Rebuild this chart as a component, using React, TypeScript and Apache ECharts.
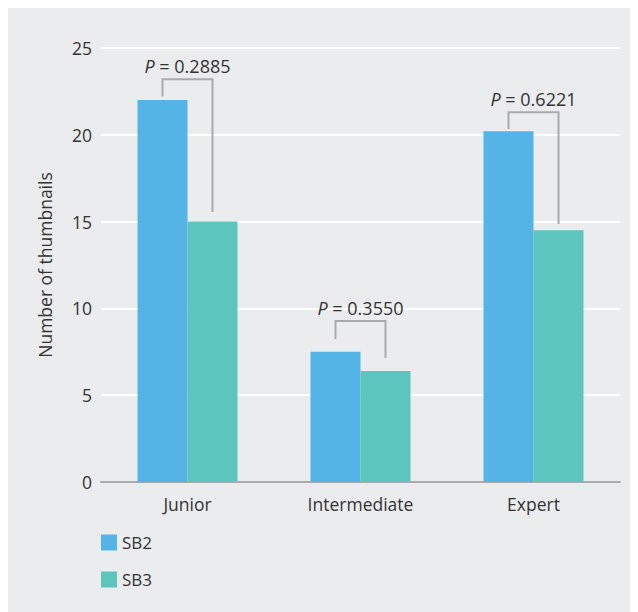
import React, { useEffect, useRef } from "react";
import * as echarts from "echarts";

const categories = ["Junior", "Intermediate", "Expert"];
const sb2Values = [22, 7.5, 20.2];
const sb3Values = [15, 6.4, 14.5];
const pLabels = ["0.2885", "0.3550", "0.6221"];
// bracket: [categoryIndex, bracket top, left leg end, right leg end]
const brackets = [
  [0, 23.2, 22.2, 15.55],
  [1, 9.27, 8.24, 7.14],
  [2, 21.3, 20.33, 14.86],
];
const yTicks = { min: 0, max: 25, interval: 5 };

const FONT = "'Open Sans', 'Noto Sans', sans-serif";
const TEXT = "#333333";
const BAR_FRAC = 0.289;

export default function App() {
  const ref = useRef<HTMLDivElement>(null);
  useEffect(() => {
    if (!ref.current) return;
    const chart = echarts.init(ref.current, undefined, { renderer: "svg" });
    chart.setOption({
      animation: false,
      backgroundColor: "#ebeced",
      textStyle: { fontFamily: FONT, color: TEXT },
      grid: { left: 93, right: 18, top: 40, bottom: 130, containLabel: false },
      legend: {
        data: ["SB2", "SB3"],
        orient: "vertical",
        left: 88,
        top: 521,
        itemWidth: 16,
        itemHeight: 16,
        itemGap: 20,
        icon: "rect",
        textStyle: { fontFamily: FONT, fontSize: 17, color: TEXT },
      },
      xAxis: {
        type: "category",
        data: categories,
        axisLine: { show: true, lineStyle: { color: "#a9aaad", width: 2 } },
        axisTick: { show: false },
        axisLabel: { fontFamily: FONT, fontSize: 17.5, color: TEXT, margin: 13 },
      },
      yAxis: {
        type: "value",
        min: yTicks.min,
        max: yTicks.max,
        interval: yTicks.interval,
        name: "Number of thumbnails",
        nameLocation: "middle",
        nameGap: 47,
        nameTextStyle: { fontFamily: FONT, fontSize: 17.5, color: TEXT },
        axisLine: { show: false },
        axisTick: { show: false },
        axisLabel: { fontFamily: FONT, fontSize: 17.5, color: TEXT, margin: 9 },
        splitLine: { show: true, lineStyle: { color: "#ffffff", width: 2 } },
      },
      series: [
        {
          name: "SB2",
          type: "bar",
          data: sb2Values,
          barWidth: BAR_FRAC * 100 + "%",
          barGap: "0%",
          itemStyle: { color: "#55b4e6" },
        },
        {
          name: "SB3",
          type: "bar",
          data: sb3Values,
          barWidth: BAR_FRAC * 100 + "%",
          barGap: "0%",
          itemStyle: { color: "#5bc5be" },
        },
        {
          name: "brackets",
          type: "custom",
          data: brackets,
          encode: { x: 0, y: 1 },
          z: 5,
          renderItem: (params: any, api: any) => {
            const idx = api.value(0);
            const top = api.coord([idx, api.value(1)]);
            const leftEnd = api.coord([idx, api.value(2)]);
            const rightEnd = api.coord([idx, api.value(3)]);
            const bw = api.size([1, 0])[0];
            const off = (bw * BAR_FRAC) / 2;
            const cx = top[0];
            const lx = cx - off;
            const rx = cx + off;
            return {
              type: "group",
              children: [
                {
                  type: "polyline",
                  shape: {
                    points: [
                      [lx, leftEnd[1]],
                      [lx, top[1]],
                      [rx, top[1]],
                      [rx, rightEnd[1]],
                    ],
                  },
                  style: { stroke: "#a9aaad", lineWidth: 2, fill: null },
                },
                {
                  type: "text",
                  x: cx,
                  y: top[1] - 13,
                  style: {
                    text: "{i|P} = " + pLabels[params.dataIndex],
                    align: "center",
                    verticalAlign: "middle",
                    fontFamily: FONT,
                    fontSize: 18,
                    fill: TEXT,
                    rich: {
                      i: { fontStyle: "italic", fontFamily: FONT, fontSize: 18, fill: TEXT },
                    },
                  },
                },
              ],
            };
          },
        },
      ],
    });
    return () => chart.dispose();
  }, []);
  return <div ref={ref} style={{ width: 630, height: 604 }} />;
}
